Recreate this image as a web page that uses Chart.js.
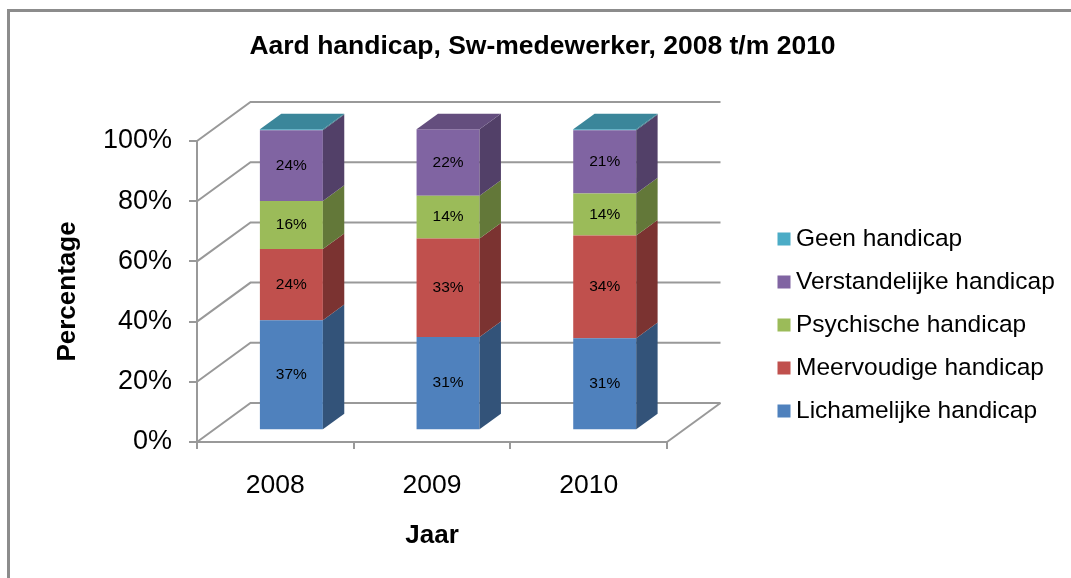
<!DOCTYPE html>
<html>
<head>
<meta charset="utf-8">
<title>Aard handicap, Sw-medewerker, 2008 t/m 2010</title>
<script src="https://cdn.jsdelivr.net/npm/chart.js@4.4.1/dist/chart.umd.min.js"></script>
<style>
  html, body { margin: 0; padding: 0; background: #fff; }
  #wrap { width: 1071px; height: 578px; position: relative; }
</style>
</head>
<body>
<div id="wrap"><canvas id="chart" width="1071" height="578"></canvas></div>
<script>
/* ========= DATA ========= */

const YEARS = ["2008", "2009", "2010"];
const LICHAMELIJK = [36.6, 31.0, 30.6];
const MEERVOUDIG = [23.6, 32.7, 34.1];
const PSYCHISCH = [16.0, 14.2, 14.0];
const VERSTANDELIJK = [23.5, 22.1, 21.0];
const GEEN = [0.3, 0, 0.3];
const Y_TICKS = [0, 20, 40, 60, 80, 100];

/* ========= LOOK ========= */

const FONT = '"Liberation Sans", Arial, sans-serif';
const GRID = "#999999";
const DEPTH_X = 53.5;
const DEPTH_Y = -39;
const BAR_FRONT = 0.3;
const BAR_BACK = 0.7;

function shade(hex, f) {
  const n = parseInt(hex.slice(1), 16);
  const r = Math.round(((n >> 16) & 255) * f);
  const g = Math.round(((n >> 8) & 255) * f);
  const b = Math.round((n & 255) * f);
  return `rgb(${r},${g},${b})`;
}

function poly(ctx, pts, color) {
  ctx.beginPath();
  ctx.moveTo(pts[0][0], pts[0][1]);
  for (let i = 1; i < pts.length; i++) ctx.lineTo(pts[i][0], pts[i][1]);
  ctx.closePath();
  ctx.fillStyle = color;
  ctx.fill();
}

/* ========= 3D PLUGIN ========= */

const bar3d = {
  id: "bar3d",

  beforeDraw(chart) {
    const ctx = chart.ctx;
    ctx.save();
    ctx.fillStyle = "#8c8c8c";
    ctx.fillRect(7, 9, 3, chart.height);
    ctx.fillRect(7, 9, chart.width, 3);
    ctx.restore();
  },

  beforeDatasetsDraw(chart) {
    const { ctx, chartArea: a, scales: { y } } = chart;
    ctx.save();
    ctx.strokeStyle = GRID;
    ctx.lineWidth = 2;
    Y_TICKS.forEach(v => {
      const py = y.getPixelForValue(v);
      ctx.beginPath();
      ctx.moveTo(a.left, py);
      ctx.lineTo(a.left + DEPTH_X, py + DEPTH_Y);
      ctx.lineTo(a.right + DEPTH_X, py + DEPTH_Y);
      ctx.stroke();
    });
    ctx.beginPath();
    ctx.moveTo(a.right, a.bottom);
    ctx.lineTo(a.right + DEPTH_X, a.bottom + DEPTH_Y);
    ctx.stroke();
    ctx.restore();

    // front faces drawn by Chart.js, pushed into the depth
    ctx.save();
    ctx.translate(DEPTH_X * BAR_FRONT, DEPTH_Y * BAR_FRONT);
  },

  afterDatasetsDraw(chart) {
    const ctx = chart.ctx;
    const bx = DEPTH_X * (BAR_BACK - BAR_FRONT);
    const by = DEPTH_Y * (BAR_BACK - BAR_FRONT);
    const sets = chart.data.datasets;

    YEARS.forEach((_, i) => {
      let topEl = null;
      let topColor = null;
      sets.forEach((ds, d) => {
        if (!ds.data[i]) return;
        const el = chart.getDatasetMeta(d).data[i];
        const { x, y, base, width } = el.getProps(["x", "y", "base", "width"], true);
        const right = x + width / 2;
        const top = Math.min(y, base);
        const bottom = Math.max(y, base);
        poly(ctx, [[right, bottom], [right + bx, bottom + by], [right + bx, top + by], [right, top]],
          shade(ds.backgroundColor, 0.64));
        topEl = { left: x - width / 2, right, top };
        topColor = ds.backgroundColor;
      });
      if (topEl) {
        poly(ctx, [[topEl.left, topEl.top], [topEl.left + bx, topEl.top + by],
          [topEl.right + bx, topEl.top + by], [topEl.right, topEl.top]], shade(topColor, 0.78));
      }
    });

    // value labels
    ctx.fillStyle = "#000";
    ctx.font = `15.5px ${FONT}`;
    ctx.textAlign = "center";
    ctx.textBaseline = "middle";
    sets.forEach((ds, d) => {
      if (!ds.showLabel) return;
      chart.getDatasetMeta(d).data.forEach((el, i) => {
        const { x, y, base } = el.getProps(["x", "y", "base"], true);
        ctx.fillText(Math.round(ds.data[i]) + "%", x, (y + base) / 2);
      });
    });

    ctx.restore();
  },

  afterDraw(chart) {
    const ctx = chart.ctx;
    ctx.save();
    ctx.fillStyle = "#000";
    ctx.textBaseline = "middle";

    // title
    ctx.font = `bold 26.5px ${FONT}`;
    ctx.textAlign = "center";
    ctx.fillText("Aard handicap, Sw-medewerker, 2008 t/m 2010", 542.5, 47);

    // legend, top item is the last series
    ctx.font = `24.5px ${FONT}`;
    ctx.textAlign = "left";
    const sets = chart.data.datasets.slice().reverse();
    sets.forEach((ds, k) => {
      const cy = 239 + k * 43;
      ctx.fillStyle = ds.backgroundColor;
      ctx.fillRect(777.5, cy - 6.5, 13, 13);
      ctx.fillStyle = "#000";
      ctx.fillText(ds.label, 796, cy);
    });
    ctx.restore();
  }
};

/* ========= CHART ========= */

Chart.defaults.font.family = FONT;
Chart.defaults.color = "#000";

new Chart(document.getElementById("chart"), {
  type: "bar",
  data: {
    labels: YEARS,
    datasets: [
      { label: "Lichamelijke handicap", data: LICHAMELIJK, backgroundColor: "#4F81BD", showLabel: true },
      { label: "Meervoudige handicap", data: MEERVOUDIG, backgroundColor: "#C0504D", showLabel: true },
      { label: "Psychische handicap", data: PSYCHISCH, backgroundColor: "#9BBB59", showLabel: true },
      { label: "Verstandelijke handicap", data: VERSTANDELIJK, backgroundColor: "#8064A2", showLabel: true },
      { label: "Geen handicap", data: GEEN, backgroundColor: "#4BACC6", showLabel: false }
    ]
  },
  options: {
    responsive: false,
    animation: false,
    devicePixelRatio: 1,
    layout: { padding: { top: 141, right: 404, bottom: 0, left: 0 } },
    datasets: {
      bar: { categoryPercentage: 1, barPercentage: 0.402, borderWidth: 0, clip: false }
    },
    plugins: {
      legend: { display: false },
      title: { display: false },
      tooltip: { enabled: false }
    },
    scales: {
      x: {
        stacked: true,
        grid: { drawOnChartArea: false, tickLength: 7, color: GRID, lineWidth: 2 },
        border: { color: GRID, width: 2 },
        ticks: { font: { size: 26.5 }, padding: 21 },
        title: { display: true, text: "Jaar", font: { size: 26, weight: "bold" }, padding: { top: 0, bottom: 27 } },
        afterFit: s => { s.height = 136; }
      },
      y: {
        stacked: true,
        min: 0,
        max: 100,
        grid: { drawOnChartArea: false, tickLength: 8, color: GRID, lineWidth: 2 },
        border: { color: GRID, width: 2 },
        ticks: { stepSize: 20, font: { size: 27 }, padding: 17, callback: v => v + "%" },
        title: { display: true, text: "Percentage", font: { size: 26, weight: "bold" }, padding: { top: 52, bottom: 0 } },
        afterFit: s => { s.width = 197; }
      }
    }
  },
  plugins: [bar3d]
});
</script>
</body>
</html>
